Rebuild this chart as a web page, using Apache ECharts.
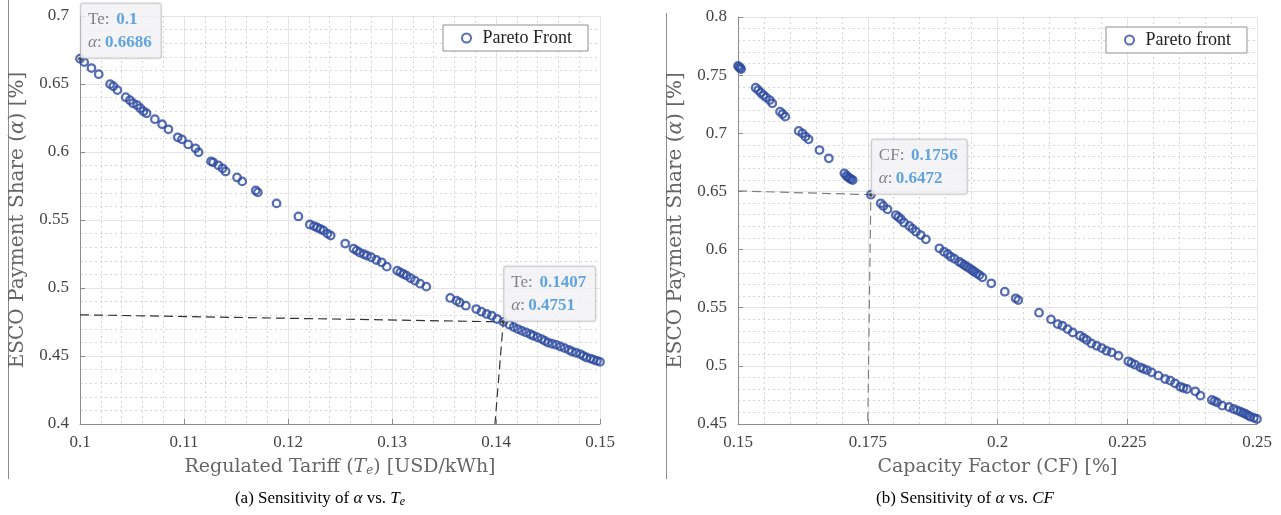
<!DOCTYPE html>
<html>
<head>
<meta charset="utf-8">
<script src="https://cdn.jsdelivr.net/npm/echarts@6/dist/echarts.min.js"></script>
<style>
  html, body { margin: 0; background: #fff; }
  #chart { width: 1281px; height: 515px; }
</style>
</head>
<body>
<div id="chart"></div>
<script>
// (a) alpha vs. regulated tariff Te
var teTariff = [0.1000, 0.1004, 0.1011, 0.1018, 0.1029, 0.1032, 0.1036, 0.1044, 0.1048, 0.1051, 0.1055, 0.1058, 0.1061, 0.1064,
  0.1072, 0.1079, 0.1085, 0.1094, 0.1098, 0.1104, 0.1111, 0.1114, 0.1126, 0.1128, 0.1133, 0.1137, 0.1140, 0.1151, 0.1156,
  0.1169, 0.1171, 0.1189, 0.1210, 0.1221, 0.1225, 0.1228, 0.1231, 0.1234, 0.1238, 0.1241, 0.1255, 0.1263, 0.1266, 0.1269,
  0.1273, 0.1276, 0.1280, 0.1285, 0.1290, 0.1295, 0.1305, 0.1308, 0.1311, 0.1314, 0.1318, 0.1322, 0.1327, 0.1333, 0.1356,
  0.1362, 0.1365, 0.1371, 0.1381, 0.1386, 0.1391, 0.1396, 0.1401, 0.1407, 0.1413, 0.1417, 0.1421, 0.1425, 0.1429, 0.1433,
  0.1436, 0.1440, 0.1444, 0.1447, 0.1450, 0.1454, 0.1458, 0.1462, 0.1466, 0.1470, 0.1473, 0.1477, 0.1481, 0.1484, 0.1487,
  0.1491, 0.1494, 0.1497, 0.1500];
var teAlpha = [0.6686, 0.6661, 0.6617, 0.6572, 0.6499, 0.6484, 0.6455, 0.6403, 0.6381, 0.6359, 0.6344, 0.6322, 0.6300, 0.6285,
  0.6241, 0.6204, 0.6167, 0.6108, 0.6093, 0.6056, 0.6027, 0.5998, 0.5931, 0.5924, 0.5902, 0.5880, 0.5857, 0.5813, 0.5784,
  0.5717, 0.5703, 0.5622, 0.5526, 0.5467, 0.5455, 0.5445, 0.5434, 0.5423, 0.5400, 0.5386, 0.5327, 0.5290, 0.5275, 0.5260,
  0.5248, 0.5238, 0.5226, 0.5206, 0.5189, 0.5157, 0.5128, 0.5115, 0.5103, 0.5091, 0.5072, 0.5054, 0.5032, 0.5010, 0.4927,
  0.4907, 0.4894, 0.4870, 0.4845, 0.4826, 0.4809, 0.4796, 0.4772, 0.4751, 0.4730, 0.4713, 0.4698, 0.4685, 0.4673, 0.4660,
  0.4649, 0.4637, 0.4624, 0.4611, 0.4599, 0.4590, 0.4582, 0.4570, 0.4558, 0.4545, 0.4533, 0.4524, 0.4514, 0.4501, 0.4489,
  0.4481, 0.4472, 0.4464, 0.4457];

// (b) alpha vs. capacity factor CF
var cfFactor = [0.1500, 0.1502, 0.1504, 0.1506, 0.1534, 0.1539, 0.1544, 0.1549, 0.1554, 0.1561, 0.1566, 0.1581, 0.1586, 0.1591,
  0.1617, 0.1624, 0.1630, 0.1636, 0.1657, 0.1675, 0.1705, 0.1709, 0.1712, 0.1715, 0.1718, 0.1721, 0.1756, 0.1775, 0.1780,
  0.1788, 0.1804, 0.1809, 0.1814, 0.1820, 0.1830, 0.1836, 0.1843, 0.1852, 0.1862, 0.1888, 0.1897, 0.1904, 0.1910, 0.1917,
  0.1926, 0.1931, 0.1936, 0.1941, 0.1946, 0.1951, 0.1955, 0.1960, 0.1965, 0.1971, 0.1988, 0.2014, 0.2035, 0.2040, 0.2080,
  0.2103, 0.2116, 0.2125, 0.2135, 0.2145, 0.2159, 0.2166, 0.2172, 0.2181, 0.2191, 0.2201, 0.2210, 0.2220, 0.2233, 0.2252,
  0.2258, 0.2265, 0.2275, 0.2281, 0.2288, 0.2297, 0.2310, 0.2323, 0.2333, 0.2342, 0.2352, 0.2358, 0.2365, 0.2381, 0.2391,
  0.2413, 0.2418, 0.2423, 0.2433, 0.2446, 0.2455, 0.2462, 0.2468, 0.2473, 0.2478, 0.2483, 0.2487, 0.2494, 0.2500];
var cfAlpha = [0.7580, 0.7570, 0.7562, 0.7553, 0.7392, 0.7372, 0.7349, 0.7329, 0.7309, 0.7286, 0.7258, 0.7186, 0.7166, 0.7143,
  0.7020, 0.7000, 0.6971, 0.6948, 0.6856, 0.6785, 0.6656, 0.6635, 0.6624, 0.6613, 0.6605, 0.6598, 0.6472, 0.6398, 0.6375,
  0.6346, 0.6297, 0.6280, 0.6260, 0.6231, 0.6203, 0.6180, 0.6154, 0.6125, 0.6088, 0.6011, 0.5982, 0.5962, 0.5939, 0.5921,
  0.5896, 0.5882, 0.5867, 0.5853, 0.5839, 0.5824, 0.5810, 0.5795, 0.5781, 0.5761, 0.5710, 0.5638, 0.5581, 0.5566, 0.5457,
  0.5400, 0.5359, 0.5345, 0.5316, 0.5287, 0.5259, 0.5240, 0.5222, 0.5193, 0.5173, 0.5153, 0.5130, 0.5116, 0.5087, 0.5039,
  0.5025, 0.5010, 0.4987, 0.4975, 0.4964, 0.4944, 0.4916, 0.4887, 0.4873, 0.4850, 0.4821, 0.4810, 0.4801, 0.4781, 0.4744,
  0.4707, 0.4697, 0.4686, 0.4658, 0.4646, 0.4629, 0.4617, 0.4606, 0.4596, 0.4586, 0.4574, 0.4563, 0.4553, 0.4543];

// data tips
var teTipX = [0.1, 0.1407];
var teTipAlpha = [0.6686, 0.4751];
var cfTipX = [0.1756];
var cfTipAlpha = [0.6472];

// dashed guide lines
var teGuideX = [0.1, 0.1407, 0.1399];
var teGuideY = [0.4803, 0.4751, 0.4];
var cfGuideX = [0.15, 0.1756, 0.1750];
var cfGuideY = [0.6504, 0.6472, 0.45];

function zip(a, b) {
  return a.map(function (v, i) { return [v, b[i]]; });
}

var serif = "'Liberation Serif', 'Times New Roman', serif";
var wide = "'DejaVu Serif', serif";
var dotColor = '#2d4a9f';

function nameRich(size) {
  return {
    t: { fontFamily: wide, fontSize: size, color: '#666' },
    i: { fontFamily: wide, fontSize: size, color: '#666', fontStyle: 'italic' },
    s: { fontFamily: wide, fontSize: 12, color: '#666', fontStyle: 'italic', verticalAlign: 'bottom', lineHeight: 6 }
  };
}

function xAxis(idx, min, max, step, name) {
  return {
    gridIndex: idx, type: 'value', min: min, max: max, interval: step,
    name: name, nameLocation: 'middle', nameGap: 34,
    nameTextStyle: { rich: nameRich(19) },
    axisLine: { show: true, onZero: false, lineStyle: { color: '#8c8c8c' } },
    axisTick: { show: true, inside: true, length: 5, lineStyle: { color: '#8c8c8c' } },
    axisLabel: { color: '#444', fontSize: 17, fontFamily: serif, margin: 10 },
    splitLine: { show: true, lineStyle: { color: '#e4e4e4' } },
    minorTick: { show: false, splitNumber: 5 },
    minorSplitLine: { show: true, lineStyle: { color: '#d6d6d6', type: [2, 3] } }
  };
}

function yAxis(idx, min, max) {
  return {
    gridIndex: idx, type: 'value', min: min, max: max, interval: 0.05,
    name: '{t|ESCO Payment Share (}{i|α}{t|) [%]}', nameLocation: 'middle', nameGap: 52,
    nameTextStyle: { rich: nameRich(20) },
    axisLine: { show: true, onZero: false, lineStyle: { color: '#8c8c8c' } },
    axisTick: { show: true, inside: true, length: 5, lineStyle: { color: '#8c8c8c' } },
    axisLabel: { color: '#444', fontSize: 17, fontFamily: serif, margin: 11 },
    splitLine: { show: true, lineStyle: { color: '#e4e4e4' } },
    minorTick: { show: false, splitNumber: 5 },
    minorSplitLine: { show: true, lineStyle: { color: '#d6d6d6', type: [2, 3] } }
  };
}

function front(name, idx, xs, ys) {
  return {
    name: name, type: 'scatter', xAxisIndex: idx, yAxisIndex: idx,
    data: zip(xs, ys), symbol: 'circle', symbolSize: 7.5,
    itemStyle: { color: 'rgba(0,0,0,0)', borderColor: dotColor, borderWidth: 2.3 },
    emphasis: { disabled: true }, z: 3
  };
}

function guide(idx, xs, ys, color) {
  return {
    type: 'line', xAxisIndex: idx, yAxisIndex: idx, data: zip(xs, ys),
    symbol: 'none', silent: true, z: 2,
    lineStyle: { color: color, width: 1.2, type: [9, 5] }
  };
}

function tip(idx, key, xs, ys) {
  return {
    type: 'scatter', xAxisIndex: idx, yAxisIndex: idx, data: zip(xs, ys),
    symbol: 'circle', symbolSize: 4, itemStyle: { color: '#333' }, silent: true, z: 5,
    label: {
      show: true, position: ['50%', '50%'], align: 'left', verticalAlign: 'bottom', offset: [1, -1],
      backgroundColor: '#f7f8fb', borderColor: '#c9c9c9', borderWidth: 1, borderRadius: 2,
      padding: [4, 9, 4, 7], lineHeight: 23,
      shadowColor: 'rgba(0,0,0,0.12)', shadowBlur: 3,
      formatter: function (p) {
        return '{k|' + key + ':}  {v|' + p.value[0] + '}\n{a|α}{k|:} {v|' + p.value[1] + '}';
      },
      rich: {
        k: { fontFamily: serif, fontSize: 17, color: '#666', lineHeight: 23 },
        a: { fontFamily: serif, fontSize: 17, color: '#666', fontStyle: 'italic', lineHeight: 23 },
        v: { fontFamily: serif, fontSize: 17, color: '#3b8ed8', fontWeight: 'bold', lineHeight: 23 }
      }
    }
  };
}

function legend(name, left, top) {
  return {
    data: [name], left: left, top: top, orient: 'horizontal',
    itemWidth: 22, itemHeight: 9, padding: [4, 16, 4, 18],
    borderColor: '#8f8f8f', borderWidth: 1, backgroundColor: '#fff',
    textStyle: { fontFamily: serif, fontSize: 18, color: '#222' },
    selectedMode: false
  };
}

var capRich = {
  i: { fontFamily: serif, fontSize: 17, fontStyle: 'italic', fill: '#000' },
  s: { fontFamily: serif, fontSize: 12, fontStyle: 'italic', fill: '#000', verticalAlign: 'bottom', lineHeight: 6 }
};

var chart = echarts.init(document.getElementById('chart'));
chart.setOption({
  animation: false,
  backgroundColor: '#fff',
  grid: [
    { left: 80, top: 16, width: 520, height: 408 },
    { left: 738, top: 17, width: 519, height: 407 }
  ],
  xAxis: [
    xAxis(0, 0.1, 0.15, 0.01, '{t|Regulated Tariff (}{i|T}{s|e}{t|) [USD/kWh]}'),
    xAxis(1, 0.15, 0.25, 0.025, '{t|Capacity Factor (CF) [%]}')
  ],
  yAxis: [yAxis(0, 0.4, 0.7), yAxis(1, 0.45, 0.8)],
  legend: [legend('Pareto Front', 443, 25), legend('Pareto front', 1106, 27)],
  graphic: [
    { type: 'line', shape: { x1: 8.5, y1: 0, x2: 8.5, y2: 479 }, style: { stroke: '#8c8c8c', lineWidth: 1 } },
    { type: 'line', shape: { x1: 666.5, y1: 13, x2: 666.5, y2: 479 }, style: { stroke: '#8c8c8c', lineWidth: 1 } },
    { type: 'text', x: 320, y: 499, style: { text: '(a) Sensitivity of {i|α} vs. {i|T}{s|e}', rich: capRich,
      fontFamily: serif, fontSize: 17, fill: '#000', align: 'center', verticalAlign: 'middle' } },
    { type: 'text', x: 965, y: 499, style: { text: '(b) Sensitivity of {i|α} vs. {i|CF}', rich: capRich,
      fontFamily: serif, fontSize: 17, fill: '#000', align: 'center', verticalAlign: 'middle' } }
  ],
  series: [
    guide(0, teGuideX, teGuideY, '#333'),
    guide(1, cfGuideX, cfGuideY, '#808080'),
    front('Pareto Front', 0, teTariff, teAlpha),
    front('Pareto front', 1, cfFactor, cfAlpha),
    tip(0, 'Te', teTipX, teTipAlpha),
    tip(1, 'CF', cfTipX, cfTipAlpha)
  ]
});
</script>
</body>
</html>
